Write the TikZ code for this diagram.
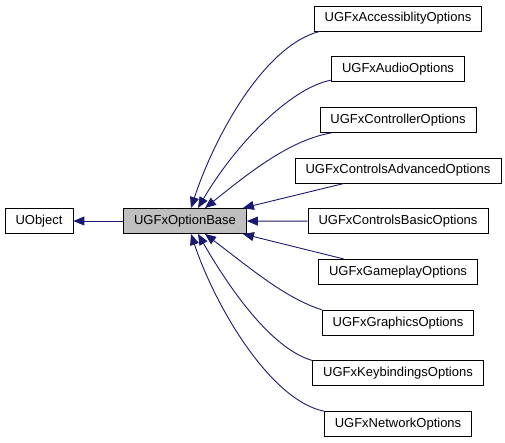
\documentclass[tikz,border=0pt]{standalone}
\usepackage{fontspec}
\setmainfont{Liberation Sans}
\usetikzlibrary{arrows.meta}
\definecolor{edgeblue}{HTML}{191970}
\definecolor{basegray}{HTML}{BFBFBF}

\begin{document}
\begin{tikzpicture}[
    x=1bp, y=-1bp,
    >={Triangle[length=11bp, width=9bp]},
    font=\fontsize{13bp}{15bp}\selectfont,
    cls/.style={draw=black, line width=0.9bp, fill=white,
                minimum height=25bp, inner xsep=10.5bp, inner ysep=0pt},
    basecls/.style={cls, fill=basegray},
    inherit/.style={->, draw=edgeblue, line width=0.9bp},
]

\useasboundingbox (0,0) rectangle (505,443);

\def\cx{398}
\def\ytop{18.5}
\def\dy{50.7}

% ── Base classes ──
\node[cls] (uobj) at (39, 221) {UObject};
\node[basecls] (base) at (185, 221) {UGFxOptionBase};

% ── Derived option classes ──
\foreach \nm/\lbl [count=\i] in {acc/UGFxAccessiblityOptions, aud/UGFxAudioOptions,
        ctl/UGFxControllerOptions, adv/UGFxControlsAdvancedOptions,
        bas/UGFxControlsBasicOptions, gam/UGFxGameplayOptions,
        gra/UGFxGraphicsOptions, key/UGFxKeybindingsOptions, net/UGFxNetworkOptions} {
    \node[cls] (\nm) at (\cx, {\ytop + (\i-1)*\dy}) {\lbl};
}

% ── Inheritance edges ──
\draw[inherit] (base) -- (uobj);

\draw[inherit] ([xshift=6bp]acc.south west) .. controls (265,45) and (215,135) .. ([xshift=6bp]base.north);
\draw[inherit] ([yshift=2bp]aud.south west) .. controls (290,88) and (235,145) .. ([xshift=13bp]base.north);
\draw[inherit] ([xshift=12bp]ctl.south west) .. controls (290,140) and (250,172) .. ([xshift=20bp]base.north);
\draw[inherit] ([xshift=49bp]adv.south west) -- ([xshift=-4bp]base.north east);
\draw[inherit] (bas) -- (base);
\draw[inherit] ([xshift=26bp]gam.north west) -- ([xshift=-4bp]base.south east);
\draw[inherit] (gra.north west) .. controls (285,298) and (250,268) .. ([xshift=20bp]base.south);
\draw[inherit] (key.north west) .. controls (275,350) and (235,298) .. ([xshift=13bp]base.south);
\draw[inherit] (net.north west) .. controls (270,400) and (215,306) .. ([xshift=6bp]base.south);

\end{tikzpicture}
\end{document}
